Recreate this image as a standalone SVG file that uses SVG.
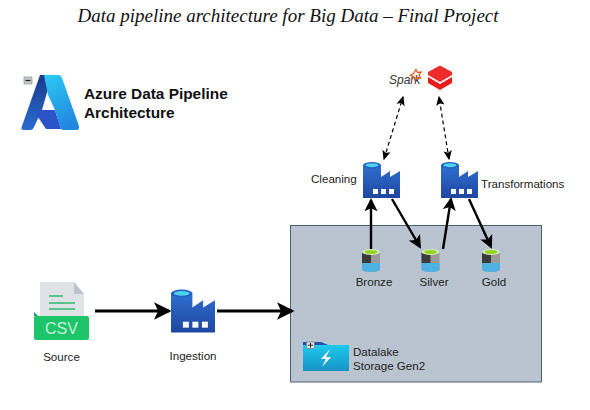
<svg xmlns="http://www.w3.org/2000/svg" width="590" height="410" viewBox="0 0 590 410">
<style>
text{font-family:"Liberation Sans",Arial,sans-serif;font-size:11.6px;fill:#222}
.title{font-family:"Liberation Serif","Times New Roman",serif;font-style:italic;font-size:19px;fill:#111}
.head{font-size:15.4px;font-weight:bold;fill:#111}
.solid{fill:none;stroke:#000;stroke-width:2.4}
.thick{fill:none;stroke:#000;stroke-width:3.2}
.dash{fill:none;stroke:#000;stroke-width:1.2;stroke-dasharray:4 3}
</style>
<defs>
<linearGradient id="fb" x1="0" y1="0" x2="0" y2="1"><stop offset="0" stop-color="#2f6fd0"/><stop offset="1" stop-color="#1f47a0"/></linearGradient>
<linearGradient id="az1" x1="0" y1="0" x2="0" y2="1"><stop offset="0" stop-color="#1b3a8c"/><stop offset="1" stop-color="#2a6cd0"/></linearGradient>
<linearGradient id="az2" x1="0" y1="0" x2="0.4" y2="1"><stop offset="0" stop-color="#2ccbf5"/><stop offset="1" stop-color="#2389e0"/></linearGradient>
<linearGradient id="lake" x1="0" y1="0" x2="0" y2="1"><stop offset="0" stop-color="#1ad0f2"/><stop offset="1" stop-color="#1a93c4"/></linearGradient>
<marker id="ah" markerWidth="5.500" markerHeight="5.500" refX="4.700" refY="2.750" orient="auto" markerUnits="strokeWidth"><path d="M0 0L5.500 2.750L0 5.500L1.300 2.750Z" fill="#000"/></marker>
<marker id="ad" markerWidth="8" markerHeight="8" refX="7" refY="4" orient="auto-start-reverse" markerUnits="strokeWidth"><path d="M0 0.5L8 4L0 7.5L1.8 4Z" fill="#000"/></marker>
<symbol id="factory" viewBox="0 0 37 36">
<path d="M0 3H18V15L27 9V15L37 9V36H0Z" fill="url(#fb)"/>
<ellipse cx="9" cy="3.2" rx="9" ry="3.2" fill="#1f5fc0"/>
<ellipse cx="9" cy="3.2" rx="6.600" ry="2" fill="#4fd2f0"/>
<rect x="10" y="27" width="5" height="5" fill="#fff"/><rect x="18" y="27" width="5" height="5" fill="#fff"/><rect x="26" y="27" width="5" height="5" fill="#fff"/>
</symbol>
<symbol id="db" viewBox="0 0 18 23">
<path d="M0 3V20C0 22 4 23 9 23S18 22 18 20V3Z" fill="#9a9a9a"/>
<path d="M0 3V14H9V3Z" fill="#3c3c3c"/>
<path d="M0 14V20C0 22 4 23 9 23S18 22 18 20V14Z" fill="#4fb0e2"/>
<ellipse cx="9" cy="3" rx="9" ry="3" fill="#d8e8c0"/>
<ellipse cx="9" cy="3" rx="6.400" ry="2" fill="#8fd81e"/>
</symbol>
</defs>

<text class="title" x="288" y="22" text-anchor="middle">Data pipeline architecture for Big Data – Final Project</text>

<g id="azure-logo">
<path d="M40 75H52L42 110L34 127Q33 130 30 130H24Q20 130 22 126Z" fill="url(#az1)"/>
<path d="M37 110H55L61 129H46L36 114Z" fill="#2c52c8"/>
<path d="M44 75H58Q61 75 62 78L79 126Q80 130 76 130H63Q61 130 60 127L55 110L48 95Z" fill="url(#az2)"/>
<rect x="24" y="77" width="8" height="7" fill="#c4c8cc" stroke="#888" stroke-width="0.6"/>
<path d="M25.500 80.500H30.500" stroke="#222" stroke-width="1.2"/>
<text class="head" x="84" y="99">Azure Data Pipeline</text>
<text class="head" x="84" y="118">Architecture</text>
</g>

<g id="storage">
<rect x="290.500" y="225.500" width="251" height="156.500" fill="#b9c4d0" stroke="#4a6072" stroke-width="1"/>
<path d="M303 342H321L328 345H349V371H303Z" fill="url(#lake)"/>
<path d="M303 342H321L328 345H303Z" fill="#2a4fa8"/>
<rect x="306.500" y="342" width="8" height="6.500" fill="#d8dadc" stroke="#666" stroke-width="0.5"/>
<path d="M308 345.200H313M310.500 343V347.500" stroke="#222" stroke-width="0.9"/>
<path d="M330 349L321 359H326L322 367L331 357H326Z" fill="#fff"/>
<text x="353" y="356">Datalake</text>
<text x="353" y="370">Storage Gen2</text>
</g>

<g id="connectors">
<path class="thick" marker-end="url(#ah)" d="M95 311H169"/>
<path class="thick" marker-end="url(#ah)" d="M217 311H292"/>
<path class="solid" marker-end="url(#ah)" d="M371 249V200"/>
<path class="solid" marker-end="url(#ah)" d="M392 199L420 247"/>
<path class="solid" marker-end="url(#ah)" d="M443 249L451 199"/>
<path class="solid" marker-end="url(#ah)" d="M469 199L491 247"/>
<path class="dash" marker-start="url(#ad)" marker-end="url(#ad)" d="M384 159L403 97"/>
<path class="dash" marker-start="url(#ad)" marker-end="url(#ad)" d="M449 159L439 97"/>
</g>

<g id="source">
<path d="M40 282H74L84 294V318H40Z" fill="#dfe3e6"/>
<path d="M74 282L84 294H74Z" fill="#bcc4ca"/>
<path d="M49 296H63M49 303H75M49 309H75" stroke="#2dbb6c" stroke-width="1.6"/>
<path d="M34 316V312L40 318V316Z" fill="#169a4e"/>
<rect x="34" y="316" width="55" height="24" rx="2" fill="#1dc46a"/>
<text x="61.500" y="334" text-anchor="middle" style="font-size:16px;fill:#c9f2da">CSV</text>
<text x="61.500" y="361" text-anchor="middle">Source</text>
</g>

<g id="ingestion">
<use href="#factory" x="171" y="289" width="44" height="44"/>
<text x="193" y="360" text-anchor="middle">Ingestion</text>
</g>

<g id="cleaning">
<use href="#factory" x="363" y="162" width="37" height="36"/>
<text x="311" y="183">Cleaning</text>
</g>

<g id="transformations">
<use href="#factory" x="441" y="162" width="37" height="36"/>
<text x="481" y="188">Transformations</text>
</g>

<g id="bronze"><use href="#db" x="362" y="249" width="18" height="23"/><text x="374" y="286" text-anchor="middle">Bronze</text></g>
<g id="silver"><use href="#db" x="421" y="249" width="19" height="23"/><text x="434" y="286" text-anchor="middle">Silver</text></g>
<g id="gold"><use href="#db" x="482" y="249" width="18" height="23"/><text x="494" y="286" text-anchor="middle">Gold</text></g>

<g id="spark">
<text x="389" y="84" style="font-size:12px;font-style:italic;fill:#333">Spark</text>
<path d="M416 69.500L417.500 72.500L421 72L419 75L420.500 78L417 77.500L415 80L414 77L410.500 75.500L413.500 73.500Z" fill="none" stroke="#e25a1c" stroke-width="1.300"/>
</g>

<g id="databricks">
<path d="M440 65.500L452 72V75L440 82L428 75V72Z" fill="#ee2a2a"/>
<path d="M428 77L440 84L452 77V83L440 90L428 83Z" fill="#e81c1c"/>
</g>
</svg>
